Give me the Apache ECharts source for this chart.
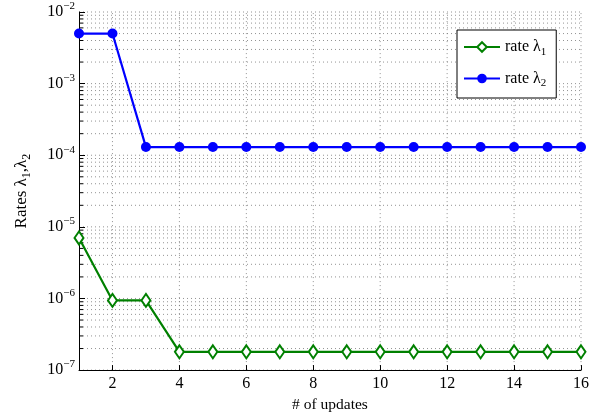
<!DOCTYPE html>
<html>
<head>
<meta charset="utf-8">
<script src="https://cdn.jsdelivr.net/npm/echarts@6/dist/echarts.min.js"></script>
<style>html,body{margin:0;padding:0;background:#fff}#c{width:602px;height:418px}</style>
</head>
<body>
<div id="c"></div>
<script>
var updates = [1,2,3,4,5,6,7,8,9,10,11,12,13,14,15,16];
var rate1 = [7.0e-6,9.4e-7,9.4e-7,1.8e-7,1.8e-7,1.8e-7,1.8e-7,1.8e-7,1.8e-7,1.8e-7,1.8e-7,1.8e-7,1.8e-7,1.8e-7,1.8e-7,1.8e-7];
var rate2 = [5.0e-3,5.0e-3,1.3e-4,1.3e-4,1.3e-4,1.3e-4,1.3e-4,1.3e-4,1.3e-4,1.3e-4,1.3e-4,1.3e-4,1.3e-4,1.3e-4,1.3e-4,1.3e-4];
var xTicks = [2,4,6,8,10,12,14,16];
var yDecades = [1e-7,1e-6,1e-5,1e-4,1e-3,1e-2];

var minorVals = [];
for (var d = 0; d < yDecades.length - 1; d++) {
  for (var k = 2; k <= 9; k++) minorVals.push(k * yDecades[d]);
}
var allY = yDecades.concat(minorVals);

var FONT = 'Liberation Serif';
var chart = echarts.init(document.getElementById('c'));

chart.setOption({
  animation: false,
  backgroundColor: '#fff',
  grid: { left: 79, right: 21, top: 12, bottom: 47, containLabel: false },
  legend: {
    data: ['rate1', 'rate2'],
    orient: 'vertical',
    left: 457, top: 30,
    backgroundColor: '#fff',
    borderColor: '#000', borderWidth: 1, borderRadius: 0,
    padding: [9, 10, 9, 6],
    itemGap: 13,
    itemWidth: 36, itemHeight: 12,
    z: 10,
    formatter: function (n) { return n === 'rate1' ? 'rate λ{s|1}' : 'rate λ{s|2}'; },
    textStyle: {
      fontFamily: FONT, fontSize: 16, color: '#000',
      rich: { s: { fontFamily: FONT, fontSize: 11, color: '#000', padding: [10, 0, 0, 0] } }
    }
  },
  xAxis: {
    type: 'value', min: 1, max: 16,
    name: '# of updates', nameLocation: 'middle', nameGap: 25,
    nameTextStyle: { fontFamily: FONT, fontSize: 15.5, color: '#000' },
    axisLine: { show: true, lineStyle: { color: '#000', width: 1 } },
    axisTick: { show: true, inside: true, length: 5, customValues: xTicks, lineStyle: { color: '#000' } },
    axisLabel: { customValues: xTicks, fontFamily: FONT, fontSize: 16, color: '#000', margin: 6 },
    splitLine: { show: false }
  },
  yAxis: {
    type: 'log', logBase: 10, min: 1e-7, max: 1e-2,
    name: 'Rates λ{s|1},λ{s|2}', nameLocation: 'middle', nameGap: 46, nameRotate: 90,
    nameTextStyle: {
      fontFamily: FONT, fontSize: 17, color: '#000',
      rich: { s: { fontFamily: FONT, fontSize: 12, color: '#000', padding: [10, 0, 0, 0] } }
    },
    axisLine: { show: true, lineStyle: { color: '#000', width: 1 } },
    axisTick: { show: true, inside: true, length: 6, lineStyle: { color: '#000' } },
    axisLabel: {
      margin: 4,
      formatter: function (v) {
        var e = Math.round(Math.log10(v));
        return '{b|10}{s|' + (e < 0 ? '\u2212' + (-e) : e) + '}';
      },
      rich: {
        b: { fontFamily: FONT, fontSize: 16, color: '#000' },
        s: { fontFamily: FONT, fontSize: 11, color: '#000', padding: [0, 0, 11, 0] }
      }
    },
    splitLine: { show: false }
  },
  series: [
    {
      name: 'rate1', type: 'line', z: 3,
      data: updates.map(function (x, i) { return [x, rate1[i]]; }),
      symbol: 'emptyDiamond', symbolSize: [9, 13],
      color: '#008000',
      lineStyle: { color: '#008000', width: 2.2 },
      itemStyle: { color: '#008000', borderColor: '#008000', borderWidth: 2.2 }
    },
    {
      name: 'rate2', type: 'line', z: 3,
      data: updates.map(function (x, i) { return [x, rate2[i]]; }),
      symbol: 'circle', symbolSize: 10,
      color: '#0000ff',
      lineStyle: { color: '#0000ff', width: 2.2 },
      itemStyle: { color: '#0000ff' }
    }
  ]
});

// grid lines and minor ticks placed through the chart's own scales
var xMin = updates[0], xMax = updates[updates.length - 1];
var yMin = yDecades[0], yMax = yDecades[yDecades.length - 1];
var els = [];
var dotStyle = { stroke: '#777', lineWidth: 0.8, lineDash: [1, 3] };
allY.forEach(function (v) {
  var a = chart.convertToPixel({ gridIndex: 0 }, [xMin, v]);
  var b = chart.convertToPixel({ gridIndex: 0 }, [xMax, v]);
  els.push({ type: 'line', silent: true, z: 0, shape: { x1: a[0], y1: a[1], x2: b[0], y2: b[1] }, style: dotStyle });
});
xTicks.forEach(function (v) {
  var a = chart.convertToPixel({ gridIndex: 0 }, [v, yMin]);
  var b = chart.convertToPixel({ gridIndex: 0 }, [v, yMax]);
  els.push({ type: 'line', silent: true, z: 0, shape: { x1: a[0], y1: a[1], x2: b[0], y2: b[1] }, style: dotStyle });
});
minorVals.forEach(function (v) {
  var a = chart.convertToPixel({ gridIndex: 0 }, [xMin, v]);
  els.push({ type: 'line', silent: true, z: 1, shape: { x1: a[0], y1: a[1], x2: a[0] + 4, y2: a[1] }, style: { stroke: '#000', lineWidth: 1 } });
});
chart.setOption({ graphic: { elements: els } });
</script>
</body>
</html>
